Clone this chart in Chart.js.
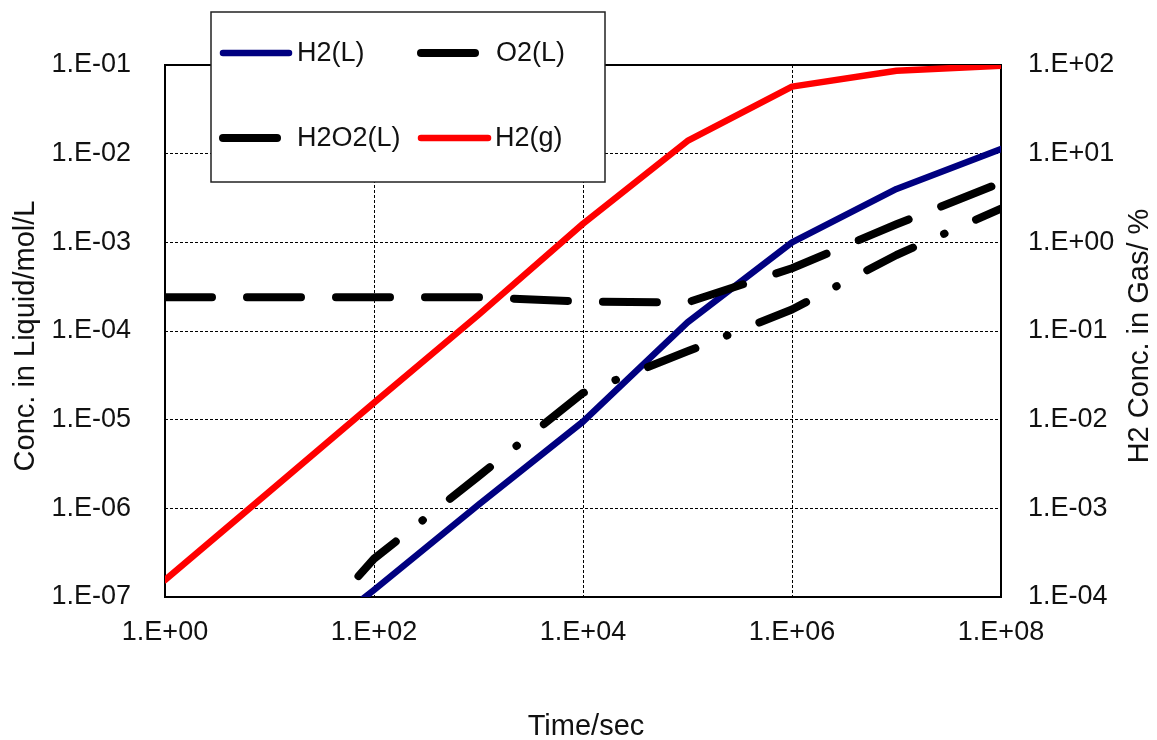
<!DOCTYPE html>
<html>
<head>
<meta charset="utf-8">
<script src="https://cdn.jsdelivr.net/npm/chart.js@4.4.1/dist/chart.umd.min.js"></script>
<style>
  html, body { margin: 0; padding: 0; background: #fff; }
  canvas { display: block; }
</style>
</head>
<body>
<canvas id="chartConc" width="1157" height="740"></canvas>
<script>
// time points (sec) and the four series
const times = [1e0, 1e1, 1e2, 1e3, 1e4, 1e5, 1e6, 1e7, 1e8];
const h2Liquid = [1.5e-9, 1.4e-8, 1.2e-7, 1.1e-6, 9.5e-6, 1.25e-4, 1.0e-3, 4.0e-3, 1.13e-2];
const o2Liquid = [2.4e-4, 2.4e-4, 2.4e-4, 2.4e-4, 2.15e-4, 2.1e-4, 5.1e-4, 1.6e-3, 4.7e-3];
const h2o2Liquid = [1.5e-9, 1.3e-8, 2.7e-7, 2.3e-6, 2.0e-5, 5.9e-5, 1.75e-4, 7.2e-4, 2.4e-3];
const h2Gas = [1.55e-4, 1.55e-3, 1.55e-2, 0.152, 1.62, 13.9, 57, 86, 98]; // %

const seriesNames = ["H2(L)", "O2(L)", "H2O2(L)", "H2(g)"];

// tick exponents for each axis
const xTickExps = [0, 2, 4, 6, 8];
const yTickExps = [-7, -6, -5, -4, -3, -2, -1];
const y2TickExps = [-4, -3, -2, -1, 0, 1, 2];

const xTitle = "Time/sec";
const yTitle = "Conc. in Liquid/mol/L";
const y2Title = "H2 Conc. in Gas/ %";

const FONT = "'Liberation Sans', Arial, sans-serif";

function aPares(valores) {
  return times.map((t, i) => ({ x: t, y: valores[i] }));
}

// "1.E-03" style labels
function formatoExp(v) {
  const e = Math.round(Math.log10(v));
  return "1.E" + (e < 0 ? "-" : "+") + String(Math.abs(e)).padStart(2, "0");
}

function ticksFijos(exps) {
  return (scale) => {
    scale.ticks = exps.map((e) => ({ value: Math.pow(10, e) }));
  };
}

const estilos = [
  { color: "#000080", width: 6.5, dash: [], offset: 0 },
  { color: "#000000", width: 8, dash: [54, 35], offset: 7 },
  { color: "#000000", width: 8, dash: [51, 34, 0.5, 34.5], offset: 93 },
  { color: "#ff0000", width: 6.5, dash: [], offset: 0 },
];

// frame, titles and the boxed legend
const decoracion = {
  id: "decoracion",
  beforeDatasetsDraw(chart) {
    const { ctx, chartArea: a } = chart;
    ctx.save();
    ctx.strokeStyle = "#000";
    ctx.lineWidth = 2;
    ctx.strokeRect(a.left, a.top, a.right - a.left, a.bottom - a.top);
    ctx.restore();
  },
  afterDraw(chart) {
    const { ctx, chartArea: a } = chart;
    const midY = (a.top + a.bottom) / 2 + 5;
    ctx.save();
    ctx.fillStyle = "#111";
    ctx.font = "29px " + FONT;
    ctx.textAlign = "center";
    ctx.textBaseline = "middle";

    // left title
    ctx.save();
    ctx.translate(26, midY);
    ctx.rotate(-Math.PI / 2);
    ctx.fillText(yTitle, 0, 0);
    ctx.restore();

    // right title (reads bottom to top as well)
    ctx.save();
    ctx.translate(1140, midY);
    ctx.rotate(-Math.PI / 2);
    ctx.fillText(y2Title, 0, 0);
    ctx.restore();

    // x title
    ctx.fillText(xTitle, (a.left + a.right) / 2 + 3, 727);

    // legend box
    ctx.fillStyle = "#fff";
    ctx.fillRect(211, 12, 394, 170);
    ctx.strokeStyle = "#222";
    ctx.lineWidth = 1.5;
    ctx.strokeRect(211, 12, 394, 170);

    const items = [
      { x1: 223, x2: 289, tx: 297, y: 53 },
      { x1: 421, x2: 475, tx: 496, y: 53 },
      { x1: 223, x2: 277, tx: 297, y: 138 },
      { x1: 421, x2: 488, tx: 495, y: 138 },
    ];
    ctx.textAlign = "left";
    ctx.font = "27px " + FONT;
    items.forEach((it, i) => {
      const st = estilos[i];
      ctx.strokeStyle = st.color;
      ctx.lineWidth = st.width;
      ctx.lineCap = "round";
      ctx.beginPath();
      ctx.moveTo(it.x1, it.y);
      ctx.lineTo(it.x2, it.y);
      ctx.stroke();
      ctx.fillStyle = "#111";
      ctx.fillText(seriesNames[i], it.tx, it.y + 1);
    });
    ctx.restore();
  },
};

const valores = [h2Liquid, o2Liquid, h2o2Liquid, h2Gas];
const datasets = valores.map((v, i) => ({
  label: seriesNames[i],
  data: aPares(v),
  yAxisID: i === 3 ? "y2" : "y",
  borderColor: estilos[i].color,
  backgroundColor: estilos[i].color,
  borderWidth: estilos[i].width,
  borderDash: estilos[i].dash,
  borderDashOffset: estilos[i].offset,
  borderCapStyle: "round",
  borderJoinStyle: "round",
  pointRadius: 0,
  tension: 0,
  clip: 0,
  order: 3 - i,
}));

const tickFont = { family: FONT, size: 27 };

new Chart(document.getElementById("chartConc").getContext("2d"), {
  type: "line",
  data: { datasets },
  plugins: [decoracion],
  options: {
    responsive: false,
    animation: false,
    events: [],
    layout: { padding: { top: 65, left: 0, right: 0, bottom: 0 } },
    plugins: {
      legend: { display: false },
      tooltip: { enabled: false },
    },
    scales: {
      x: {
        type: "logarithmic",
        position: "bottom",
        min: 1,
        max: 1e8,
        afterBuildTicks: ticksFijos(xTickExps),
        afterFit: (scale) => { scale.height = 143; },
        grid: { color: "#000", lineWidth: 1, drawTicks: false },
        border: { display: false, dash: [3, 2] },
        ticks: {
          callback: formatoExp,
          font: tickFont,
          color: "#111",
          padding: 19,
          maxRotation: 0,
          autoSkip: false,
        },
      },
      y: {
        type: "logarithmic",
        position: "left",
        min: 1e-7,
        max: 1e-1,
        afterBuildTicks: ticksFijos(yTickExps),
        afterFit: (scale) => { scale.width = 165; },
        grid: { color: "#000", lineWidth: 1, drawTicks: false },
        border: { display: false, dash: [3, 2] },
        ticks: {
          callback: formatoExp,
          font: tickFont,
          color: "#111",
          padding: 34,
          autoSkip: false,
        },
      },
      y2: {
        type: "logarithmic",
        position: "right",
        min: 1e-4,
        max: 1e2,
        afterBuildTicks: ticksFijos(y2TickExps),
        afterFit: (scale) => { scale.width = 156; },
        grid: { display: false, drawTicks: false },
        border: { display: false },
        ticks: {
          callback: formatoExp,
          font: tickFont,
          color: "#111",
          padding: 27,
          autoSkip: false,
        },
      },
    },
  },
});
</script>
</body>
</html>
